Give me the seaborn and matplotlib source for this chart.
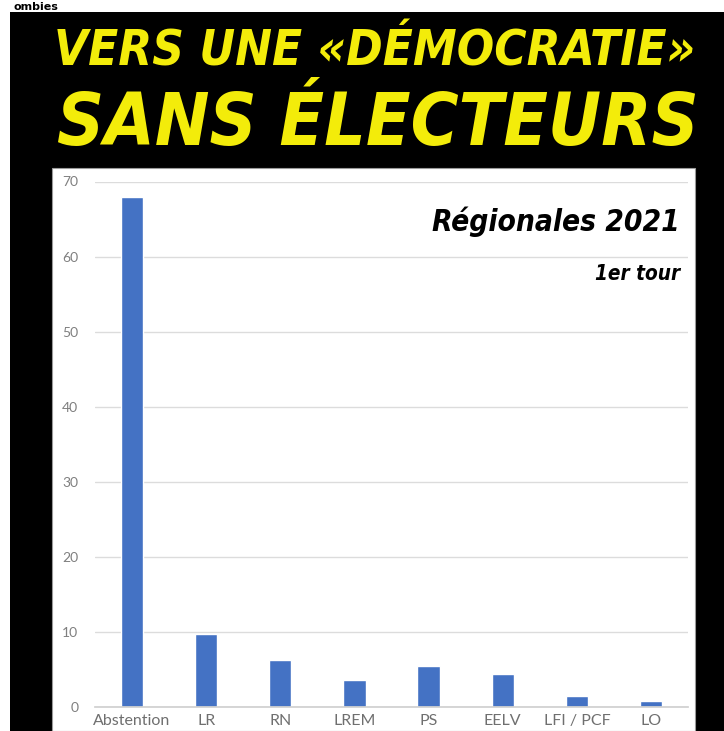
import matplotlib
matplotlib.use("Agg")
import matplotlib.pyplot as plt
import matplotlib.patches as mpatches
import seaborn as sns
import pandas as pd

categories = ["Abstention", "LR", "RN", "LREM", "PS", "EELV", "LFI / PCF", "LO"]
values = [68.0, 9.7, 6.3, 3.55, 5.4, 4.4, 1.5, 0.75]
yticks = [0, 10, 20, 30, 40, 50, 60, 70]

title1 = "VERS UNE «DÉMOCRATIE»"
title2 = "SANS ÉLECTEURS"
subtitle = "Régionales 2021"
subtitle2 = "1er tour"
top_fragment = "ombies"

W, H = 724, 731
sns.set_theme(style="white")
plt.rcParams['font.family'] = ['Lato', 'DejaVu Sans']

fig = plt.figure(figsize=(W / 100, H / 100), dpi=100)
fig.patch.set_facecolor("white")

def px(x, y):
    return x / W, 1 - y / H

# black frame
x0, y0 = px(10, 731)
fig.patches.append(mpatches.Rectangle((x0, y0), (W - 10) / W, (731 - 12) / H,
                                      transform=fig.transFigure, facecolor="black",
                                      edgecolor="none", zorder=-3))
# white panel
x1, y1 = px(52, 731)
fig.patches.append(mpatches.Rectangle((x1, y1), (695 - 52) / W, (731 - 168) / H,
                                      transform=fig.transFigure, facecolor="white",
                                      edgecolor="#9a9a9a", linewidth=0.8, zorder=-2))

ax = fig.add_axes([95 / W, 24 / H, (688 - 95) / W, (707 - 181.5) / H])
ax.set_zorder(1)
ax.set_facecolor("none")
df = pd.DataFrame({"cat": categories, "val": values})
sns.barplot(data=df, x="cat", y="val", color="#4472c4", saturation=1, width=0.3, ax=ax)
ax.set_ylim(0, 70)
ax.set_xlim(-0.5, len(categories) - 0.5)
ax.set_yticks(yticks)
ax.set_yticklabels([str(t) for t in yticks])
ax.grid(axis="y", color="#dcdcdc", linewidth=1)
ax.set_axisbelow(True)
for s in ["top", "right", "left"]:
    ax.spines[s].set_visible(False)
ax.spines["bottom"].set_color("#d0d0d0")
ax.tick_params(axis="y", length=0, pad=12, labelsize=10, labelcolor="#7f7f7f")
ax.tick_params(axis="x", length=0, pad=5, labelsize=11.5, labelcolor="#6f6f6f")
ax.set_xlabel("")
ax.set_ylabel("")

renderer = fig.canvas.get_renderer()

def fitted_text(x, y, s, target_w, ha, va, **kw):
    t = fig.text(x / W, 1 - y / H, s, ha=ha, va=va, **kw)
    size = kw.get("fontsize", 40)
    for _ in range(4):
        bb = t.get_window_extent(renderer=renderer)
        size = size * target_w / bb.width
        t.set_fontsize(size)
    return t

yellow = "#f3ec0a"
fitted_text(375, 52, title1, 640, "center", "center", family="DejaVu Sans",
            fontstretch="condensed", fontweight="heavy", fontstyle="italic",
            color=yellow, fontsize=40)
fitted_text(378, 125, title2, 642, "center", "center", family="DejaVu Sans",
            fontstretch="condensed", fontweight="heavy", fontstyle="italic",
            color=yellow, fontsize=60)
fitted_text(680, 222, subtitle, 248, "right", "center", family="DejaVu Sans",
            fontstretch="condensed", fontweight="bold", fontstyle="italic",
            color="black", fontsize=30)
fitted_text(680, 274, subtitle2, 85, "right", "center", family="DejaVu Sans",
            fontstretch="condensed", fontweight="bold", fontstyle="italic",
            color="black", fontsize=16)
fig.text(14 / W, 1 - 10 / H, top_fragment, ha="left", va="baseline",
         fontsize=8, fontweight="bold", color="black", family="DejaVu Sans")

fig.savefig("out.png", dpi=100, facecolor="white")
